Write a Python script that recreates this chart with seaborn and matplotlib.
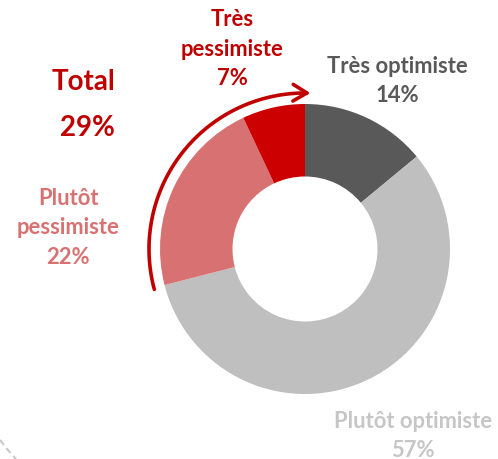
import numpy as np
import matplotlib
matplotlib.use('Agg')
import matplotlib.pyplot as plt
import seaborn as sns
from matplotlib.patches import FancyArrowPatch
from matplotlib.path import Path

# data
categories = ['Très optimiste', 'Plutôt optimiste', 'Plutôt pessimiste', 'Très pessimiste']
values = [14, 57, 22, 7]
slice_colors = ['#595959', '#BFBFBF', '#D87272', '#CC0000']
text_colors = ['#595959', '#C6C6C6', '#D87272', '#C00000']
label_lines = ['Très optimiste\n14%', 'Plutôt optimiste\n57%', 'Plutôt\npessimiste\n22%', 'Très\npessimiste\n7%']
total_label = 'Total\n29%'

sns.set_style('white')
plt.rcParams['font.family'] = ['Lato', 'DejaVu Sans']

W, H = 498, 459
fig = plt.figure(figsize=(W / 100, H / 100), dpi=100)
ax = fig.add_axes([0, 0, 1, 1])

cx, cy = 305, H - 249
R = 145
ax.pie(values, colors=slice_colors, startangle=90, counterclock=False,
       center=(cx, cy), radius=R, frame=True,
       wedgeprops=dict(width=R * 0.5, edgecolor='none'))
ax.set_xlim(0, W)
ax.set_ylim(0, H)
ax.set_aspect('equal')
ax.axis('off')

# labels
pos = [(397, H - 81), (413, H - 436), (68, H - 228), (232, H - 49)]
for txt, (x, y), c in zip(label_lines, pos, text_colors):
    ax.text(x, y, txt, ha='center', va='center', color=c, fontsize=15.8,
            fontweight='bold', linespacing=1.5)

ax.text(115, H - 105, total_label, ha='right', va='center', color='#C00000',
        fontsize=20, fontweight='bold', linespacing=2.0, multialignment='right')

# curved arrow around pessimist slices
r_arc = 156
t = np.radians(np.linspace(195, 88, 80))
pts = np.column_stack([cx + r_arc * np.cos(t), cy + r_arc * np.sin(t)])
arrow = FancyArrowPatch(path=Path(pts), arrowstyle='->,head_length=10,head_width=6',
                        color='#C00000', lw=2.6, mutation_scale=1)
ax.add_patch(arrow)

# dashed decoration bottom-left
ax.plot([0, 7, 16], [H - 440, H - 449, H - 459], ls=(0, (3, 2)), color='#C8C8C8', lw=1.5)

fig.savefig('out.png', dpi=100)
